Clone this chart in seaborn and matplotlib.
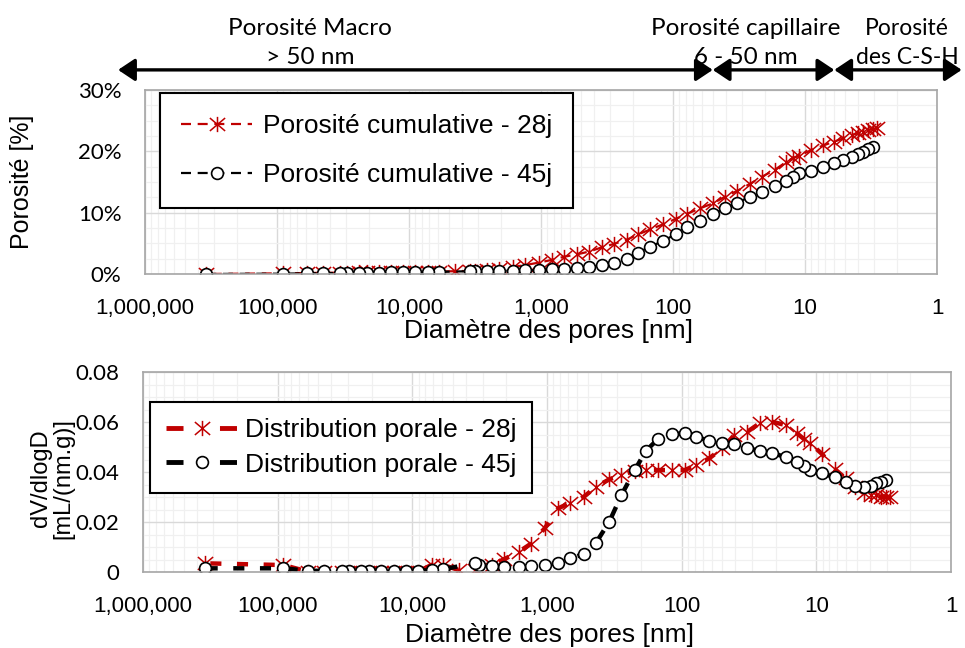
import numpy as np
import pandas as pd
import seaborn as sns
import matplotlib.pyplot as plt
from matplotlib.path import Path
from matplotlib.ticker import (FixedLocator, FuncFormatter, PercentFormatter,
                               AutoMinorLocator, LogLocator, NullFormatter)

nan = np.nan

# pore diameter grid (nm), common to all series
diametre_nm = [345000, 90600, 59600, 45100, 33300, 29600, 24000, 20900, 17000, 13800,
               11200, 9060, 7180, 5960, 4510, 3450, 3180, 2580, 2090, 1620,
               1320, 1040, 826, 670, 533, 433, 345, 280, 223, 184,
               149, 119, 94.9, 78.3, 62.4, 50.0, 40.7, 32.6, 26.1, 21.2,
               16.9, 13.9, 12.3, 11.1, 9.06, 7.26, 6.07, 5.13, 4.43, 3.94,
               3.61, 3.31, 3.04, 2.86]

# cumulative porosity (%)
poro_cumul_28j = [0.0, 0.1, 0.15, 0.2, 0.2, 0.2, 0.25, 0.25, 0.25, 0.3,
                  0.3, 0.3, 0.35, 0.4, 0.45, 0.5, 0.55, 0.65, 0.85, 1.15,
                  1.45, 1.85, 2.3, 2.8, 3.2, 3.65, 4.35, 4.9, 5.6, 6.45,
                  7.25, 8.1, 9.0, 9.8, 10.7, 11.5, 12.55, 13.55, 14.7, 15.85,
                  17.0, 18.25, 18.9, 19.25, 20.15, 20.95, 21.55, 22.1, 22.65, 22.95,
                  23.2, 23.45, 23.6, 23.75]
poro_cumul_45j = [0.0, 0.05, 0.1, 0.15, 0.15, 0.15, 0.2, 0.2, 0.2, 0.25,
                  0.25, 0.25, 0.3, 0.35, nan, 0.45, 0.5, 0.5, 0.52, 0.54,
                  0.6, 0.65, 0.77, 0.86, 0.95, 1.1, 1.47, 1.84, 2.45, 3.47,
                  4.45, 5.38, 6.52, 7.71, 8.69, 9.73, 10.71, 11.63, 12.6, 13.42,
                  14.35, 15.21, 15.86, 16.42, 16.84, 17.49, 18.15, 18.59, 19.12, 19.57,
                  19.94, 20.33, 20.76, nan]

# pore size distribution dV/dlogD (mL/(nm.g))
dist_porale_28j = [0.0036, 0.0029, 0.0003, 0.0003, 0.0003, 0.0003, 0.0003, 0.0003, 0.0003, 0.0003,
                   0.0003, 0.0003, 0.003, 0.003, 0.0009, 0.0009, 0.0015, 0.003, 0.0052, 0.0082,
                   0.0114, 0.0176, 0.0256, 0.0278, 0.0302, 0.0342, 0.0372, 0.0389, 0.0406, 0.0409,
                   0.0409, 0.0409, 0.0409, 0.0429, 0.0456, 0.0496, 0.0549, 0.0562, 0.0598, 0.0602,
                   0.0589, 0.0556, 0.0532, 0.0516, 0.0473, 0.0412, 0.0376, 0.034, 0.0316, 0.0309,
                   0.0309, 0.0302, 0.03, 0.0301]
dist_porale_45j = [0.0016, 0.0016, 0.0006, 0.0006, 0.0006, 0.0006, 0.0006, 0.0006, 0.0006, 0.0006,
                   0.0006, 0.0006, 0.0009, 0.0012, nan, 0.0036, 0.0029, 0.0025, 0.0022, 0.0022,
                   0.0024, 0.0029, 0.0038, 0.0056, 0.0073, 0.0118, 0.0202, 0.0309, 0.0409, 0.0487,
                   0.0534, 0.0553, 0.0556, 0.0542, 0.0526, 0.0518, 0.0512, 0.0496, 0.0486, 0.0478,
                   0.046, 0.0442, 0.0425, 0.0409, 0.0396, 0.038, 0.0362, 0.0345, 0.034, 0.0345,
                   0.0356, 0.0362, 0.0369, nan]

x_ticks = [1e6, 1e5, 1e4, 1e3, 100, 10, 1]
pct_ticks = [0, 10, 20, 30]
dist_ticks = [0, 0.02, 0.04, 0.06, 0.08]

classes = ["Porosité Macro\n> 50 nm", "Porosité capillaire\n6 - 50 nm", "Porosité\ndes C-S-H"]
class_edges = [1.6e6, 50, 6, 0.65]

sns.set_theme(style="white")
plt.rcParams["font.family"] = ["Liberation Sans", "DejaVu Sans"]
plt.rcParams.update({"text.color": "black", "axes.labelcolor": "black",
                     "xtick.color": "black", "ytick.color": "black"})

RED = "#c00000"
# Excel-like star: an X crossed by a vertical bar
STAR = Path([(-1, -0.85), (1, 0.85), (-1, 0.85), (1, -0.85), (0, -1), (0, 1)],
            [Path.MOVETO, Path.LINETO, Path.MOVETO, Path.LINETO, Path.MOVETO, Path.LINETO])

df = pd.DataFrame({
    "d": diametre_nm,
    "c28": poro_cumul_28j,
    "c45": poro_cumul_45j,
    "p28": dist_porale_28j,
    "p45": dist_porale_45j,
})

fig = plt.figure(figsize=(9.65, 6.48), dpi=100)
ax1 = fig.add_axes([0.1503, 0.5772, 0.8207, 0.2840])
ax2 = fig.add_axes([0.1482, 0.1168, 0.8373, 0.3086])


def draw(ax, col, color, marker, ms, mfc, mew, lw, ls, label):
    sub = df.dropna(subset=[col])
    sns.lineplot(data=sub, x="d", y=col, ax=ax, color=color, lw=lw, linestyle=ls,
                 marker=marker, markersize=ms, markerfacecolor=mfc,
                 markeredgecolor=color, markeredgewidth=mew, label=label)


def style(ax):
    ax.set_xscale("log")
    ax.set_xlim(1e6, 1)
    ax.xaxis.set_major_locator(FixedLocator(x_ticks))
    ax.xaxis.set_major_formatter(FuncFormatter(lambda v, p: f"{v:,.0f}"))
    ax.xaxis.set_minor_locator(LogLocator(base=10, subs=np.arange(2, 10)))
    ax.xaxis.set_minor_formatter(NullFormatter())
    ax.yaxis.set_minor_locator(AutoMinorLocator(4))
    ax.grid(which="major", color="#d9d9d9", lw=1.0)
    ax.grid(which="minor", color="#f0f0f0", lw=0.9)
    ax.set_axisbelow(True)
    for s in ax.spines.values():
        s.set_color("#a6a6a6")
        s.set_linewidth(1.2)
    ax.tick_params(axis="x", which="both", length=0, labelsize=16, pad=17,
                   labelfontfamily="Liberation Sans")
    ax.tick_params(axis="y", which="major", length=5, width=1, color="#a6a6a6",
                   labelsize=16, pad=12, labelfontfamily="Lato")
    ax.tick_params(axis="y", which="minor", length=0)


# --- top: cumulative porosity
draw(ax1, "c28", RED, STAR, 11, RED, 1.1, 1.6, (0, (4.5, 3)), "Porosité cumulative - 28j")
draw(ax1, "c45", "black", "o", 8.5, "white", 1.2, 1.6, (0, (4.5, 3)), "Porosité cumulative - 45j")
style(ax1)
ax1.set_ylim(0, 30)
ax1.yaxis.set_major_locator(FixedLocator(pct_ticks))
ax1.yaxis.set_major_formatter(PercentFormatter(100, decimals=0))
ax1.set_xlabel("Diamètre des pores [nm]", fontsize=19)
ax1.xaxis.set_label_coords(0.51, -0.245)
ax1.set_ylabel("Porosité [%]", fontsize=18)
ax1.yaxis.set_label_coords(-0.14, 0.5)
leg1 = ax1.legend(loc="upper left", bbox_to_anchor=(0.019, 0.984), fontsize=19,
                  frameon=True, fancybox=False, edgecolor="black", framealpha=1,
                  handlelength=2.7, handletextpad=0.4, labelspacing=0.95, borderpad=0.8,
                  borderaxespad=0, numpoints=1)
leg1.get_frame().set_linewidth(1.5)

# --- bottom: pore size distribution
draw(ax2, "p28", RED, STAR, 11, RED, 1.1, 3.2, (0, (2.5, 3.5)), "Distribution porale - 28j")
draw(ax2, "p45", "black", "o", 8.5, "white", 1.2, 3.2, (0, (2.5, 3.5)), "Distribution porale - 45j")
style(ax2)
ax2.set_ylim(0, 0.08)
ax2.yaxis.set_major_locator(FixedLocator(dist_ticks))
ax2.yaxis.set_major_formatter(FuncFormatter(lambda v, p: "0" if v == 0 else f"{v:.2f}"))
ax2.set_xlabel("Diamètre des pores [nm]", fontsize=19)
ax2.xaxis.set_label_coords(0.5025, -0.255)
ax2.set_ylabel("dV/dlogD\n[mL/(nm.g)]", fontsize=17, linespacing=1.0)
ax2.yaxis.set_label_coords(-0.085, 0.47)
leg2 = ax2.legend(loc="upper left", bbox_to_anchor=(0.0087, 0.85), fontsize=19,
                  frameon=True, fancybox=False, edgecolor="black", framealpha=1,
                  handlelength=2.7, handletextpad=0.3, labelspacing=0.4, borderpad=0.6,
                  borderaxespad=0, numpoints=1)
leg2.get_frame().set_linewidth(1.5)
for ln in leg2.get_lines():
    ln.set_linewidth(3.5)
    ln.set_linestyle((0, (3.5, 7.5)))

# --- pore class arrows and labels above the top panel
trans = ax1.get_xaxis_transform()
for i in range(len(classes)):
    ax1.annotate("", xy=(class_edges[i + 1], 1.109), xytext=(class_edges[i], 1.109),
                 xycoords=trans, textcoords=trans, annotation_clip=False,
                 arrowprops=dict(arrowstyle="<|-|>,head_length=0.6,head_width=0.4",
                                 color="black", lw=2.4, shrinkA=0, shrinkB=0,
                                 mutation_scale=17))
label_x = [0.208, 0.758, 0.962]
label_fs = [17.5, 17.5, 16.5]
for txt, xx, fs in zip(classes, label_x, label_fs):
    ax1.text(xx, 1.255, txt, transform=ax1.transAxes, ha="center", va="center",
             fontsize=fs, family="Lato", linespacing=1.5)

fig.savefig("out.png", dpi=100)
